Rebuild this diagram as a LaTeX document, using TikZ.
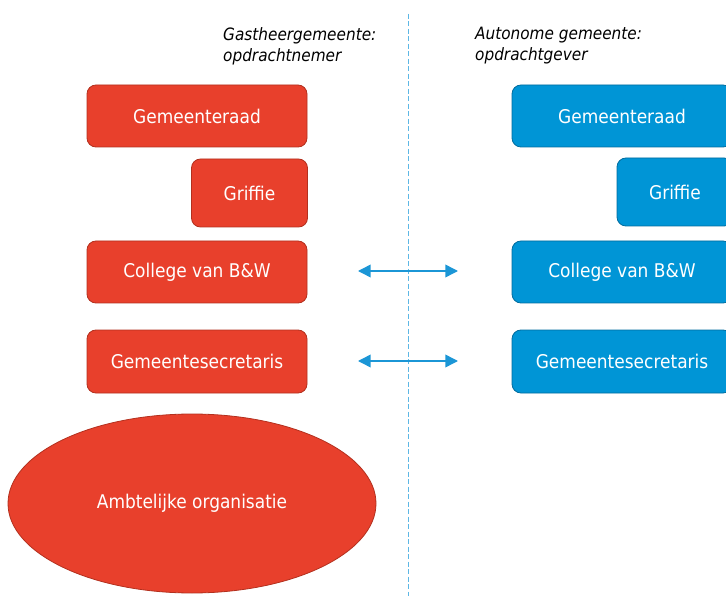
\documentclass[tikz,border=0pt]{standalone}
\usepackage{fontspec}
\usepackage{tikz}
\usetikzlibrary{shapes.geometric,arrows.meta}
\setmainfont{DejaVu Sans Condensed}

\definecolor{gastrood}{HTML}{E8402C}
\definecolor{gastrand}{HTML}{B3301E}
\definecolor{autoblauw}{HTML}{0095D6}
\definecolor{autorand}{HTML}{006C9E}
\definecolor{pijlblauw}{HTML}{1B96D6}
\definecolor{lijnblauw}{HTML}{5DB7E5}

\begin{document}
\begin{tikzpicture}[x=1pt, y=-1pt,
    orgbox/.style={rounded corners=9pt, line width=0.8pt, text=white,
        font=\fontsize{18.9}{22}\selectfont, inner sep=0pt},
    gast/.style={orgbox, fill=gastrood, draw=gastrand},
    auto/.style={orgbox, fill=autoblauw, draw=autorand},
    breed/.style={minimum width=220pt, minimum height=62pt},
    smal/.style={minimum width=116pt, minimum height=68pt},
    kop/.style={anchor=north west, inner sep=0pt, align=left,
        font=\fontsize{17}{21}\selectfont\itshape},
    relatie/.style={pijlblauw, line width=1.5pt,
        {Triangle[length=12.7pt,width=12.7pt]}-{Triangle[length=12.7pt,width=12.7pt]}}
]
    \useasboundingbox (0,0) rectangle (726,596);

    % scheidslijn
    \draw[lijnblauw, line width=1pt, dash pattern=on 5pt off 2.5pt]
        (408,14) -- (408,596);

    % koppen
    \node[kop] (kopL) at (223,27) {Gastheergemeente:\\opdrachtnemer};
    \node[kop] (kopR) at (475,27) {Autonome gemeente:\\opdrachtgever};

    % gastheergemeente
    \node[gast, breed] (raadL) at (197,116) {Gemeenteraad};
    \node[gast, smal] (griffieL) at (249.5,193) {Griffie};
    \node[gast, breed] (collegeL) at (197,272) {College van B\&W};
    \node[gast, breed, minimum height=63pt] (secrL) at (197,361.5) {Gemeentesecretaris};
    \node[ellipse, gast, minimum width=368pt, minimum height=179pt]
        (ambtL) at (192,503.5) {Ambtelijke organisatie};

    % autonome gemeente
    \node[auto, breed] (raadR) at (622,116) {Gemeenteraad};
    \node[auto, smal] (griffieR) at (675,192) {Griffie};
    \node[auto, breed] (collegeR) at (622,272) {College van B\&W};
    \node[auto, breed, minimum height=63pt] (secrR) at (622,361.5) {Gemeentesecretaris};

    % relaties
    \coordinate (collegeA) at (358,271);
    \coordinate (collegeB) at (458,271);
    \coordinate (secrA) at (358,361);
    \coordinate (secrB) at (458,361);
    \draw[relatie] (collegeA) -- (collegeB);
    \draw[relatie] (secrA) -- (secrB);
\end{tikzpicture}
\end{document}
